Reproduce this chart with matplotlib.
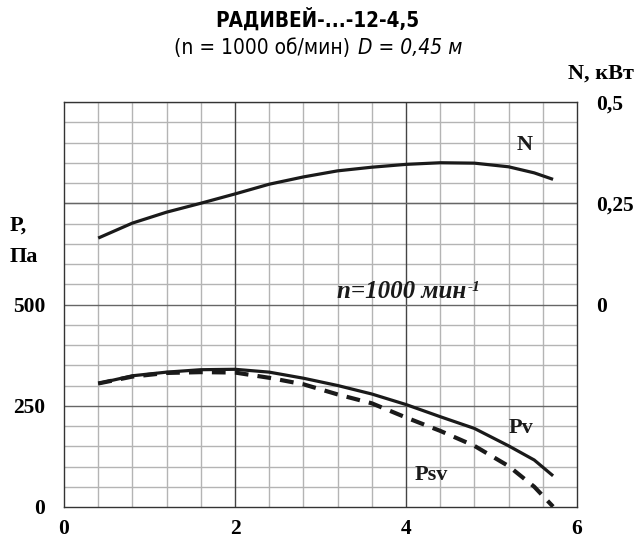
import numpy as np
import matplotlib
matplotlib.use("Agg")
import matplotlib.pyplot as plt
from matplotlib.ticker import MultipleLocator, FixedLocator

# ---- data ----
q_n = [0.4, 0.8, 1.2, 1.6, 2.0, 2.4, 2.8, 3.2, 3.6, 4.0, 4.4, 4.8, 5.2, 5.5, 5.72]
n_kw = [0.164, 0.201, 0.228, 0.25, 0.273, 0.297, 0.315, 0.33, 0.339, 0.346, 0.350, 0.349, 0.340, 0.325, 0.309]

q_p = [0.4, 0.8, 1.2, 1.6, 2.0, 2.4, 2.8, 3.2, 3.6, 4.0, 4.4, 4.8, 5.2, 5.5, 5.72]
pv = [305, 324, 333, 339, 340, 333, 318, 300, 279, 253, 223, 194, 151, 116, 77]
psv = [305, 322, 331, 333, 332, 319, 303, 278, 256, 221, 188, 151, 101, 50, 1]

x_ticks = [0, 2, 4, 6]
p_ticks = [0, 250, 500]
n_ticks = [0, 0.25, 0.5]
n_tick_labels = ["0", "0,25", "0,5"]

title = "РАДИВЕЙ-...-12-4,5"

# ---- figure ----
W, H = 641, 542
fig = plt.figure(figsize=(W / 100, H / 100), dpi=100)
L, R, T, B = 64, 577, 102, 507
ax = fig.add_axes([L / W, 1 - B / H, (R - L) / W, (B - T) / H])

serif = ["Liberation Serif", "DejaVu Serif"]
narrow = ["DejaVu Sans"]

ax.set_xlim(0, 6)
ax.set_ylim(0, 1000)

# grid
ax.xaxis.set_minor_locator(MultipleLocator(0.4))
ax.yaxis.set_minor_locator(MultipleLocator(50))
ax.xaxis.set_major_locator(FixedLocator(x_ticks))
ax.yaxis.set_major_locator(FixedLocator(p_ticks))
ax.grid(which="minor", color="#b4b4b4", lw=1.0)
for xv in [2, 4]:
    ax.axvline(xv, color="#444444", lw=1.0, zorder=1)
for yv in [250, 500, 750]:
    ax.axhline(yv, color="#666666", lw=1.0, zorder=1)
ax.set_axisbelow(True)

for s in ax.spines.values():
    s.set_color("#333333")
    s.set_linewidth(1.0)

ax.tick_params(which="both", length=0)
ax.tick_params(axis="x", pad=9, labelsize=15.5)
ax.tick_params(axis="y", pad=13.5, labelsize=15.5)
for lab in ax.get_xticklabels() + ax.get_yticklabels():
    lab.set_fontfamily(serif)
    lab.set_fontweight("bold")

# twin axis for N
ax2 = ax.twinx()
ax2.set_ylim(-0.5, 0.5)
ax2.yaxis.set_major_locator(FixedLocator(n_ticks))
ax2.set_yticklabels(n_tick_labels)
ax2.tick_params(length=0, pad=14, labelsize=15.5)
for lab in ax2.get_yticklabels():
    lab.set_fontfamily(serif)
    lab.set_fontweight("bold")
for s in ax2.spines.values():
    s.set_visible(False)

# curves
ax2.plot(q_n, n_kw, color="#1a1a1a", lw=2.3, solid_capstyle="butt", zorder=5)
ax.plot(q_p, pv, color="#1a1a1a", lw=2.3, solid_capstyle="butt", zorder=5)
ax.plot(q_p, psv, color="#1a1a1a", lw=3.0, dashes=(3.3, 2.2), zorder=5)

# curve labels
ax.text(5.39, 894, "N", fontsize=16, fontweight="bold", family=serif,
        ha="center", va="center", color="#1a1a1a")
ax.text(5.35, 195, "Pv", fontsize=16, fontweight="bold", family=serif,
        ha="center", va="center", color="#1a1a1a")
ax.text(4.30, 79, "Psv", fontsize=16, fontweight="bold", family=serif,
        ha="center", va="center", color="#1a1a1a")

# rpm annotation
t_main = ax.text(337 / W, 1 - 298 / H, "n=1000 мин", transform=fig.transFigure,
                 fontsize=18, fontweight="bold", fontstyle="italic", family=serif,
                 ha="left", va="baseline", color="#1a1a1a")
fig.canvas.draw()
bb = t_main.get_window_extent()
fig.text(bb.x1 / W + 0.002, (bb.y1 - 1) / H, "-1", fontsize=11, fontweight="bold",
         fontstyle="italic", family=serif, ha="left", va="top", color="#1a1a1a")

# axis titles
fig.text(10 / W, 1 - 226 / H, "P,", fontsize=16, fontweight="bold", family=serif,
         ha="left", va="center")
fig.text(10 / W, 1 - 257 / H, "Па", fontsize=16, fontweight="bold", family=serif,
         ha="left", va="center")
fig.text(568 / W, 1 - 74 / H, "N, кВт", fontsize=16, fontweight="bold", family=serif,
         ha="left", va="center")

# titles
fig.text(317 / W, 1 - 19 / H, title, fontsize=14.8, fontweight="bold", family=narrow,
         fontstretch="condensed", ha="center", va="center")
fig.text(350 / W, 1 - 48 / H, "(n = 1000 об/мин)", fontsize=15, family=narrow,
         fontstretch="condensed", ha="right", va="center")
fig.text(358 / W, 1 - 48 / H, "D = 0,45 м", fontsize=15, family=narrow,
         fontstretch="condensed", fontstyle="italic", ha="left", va="center")

fig.savefig("out.png", dpi=100)
